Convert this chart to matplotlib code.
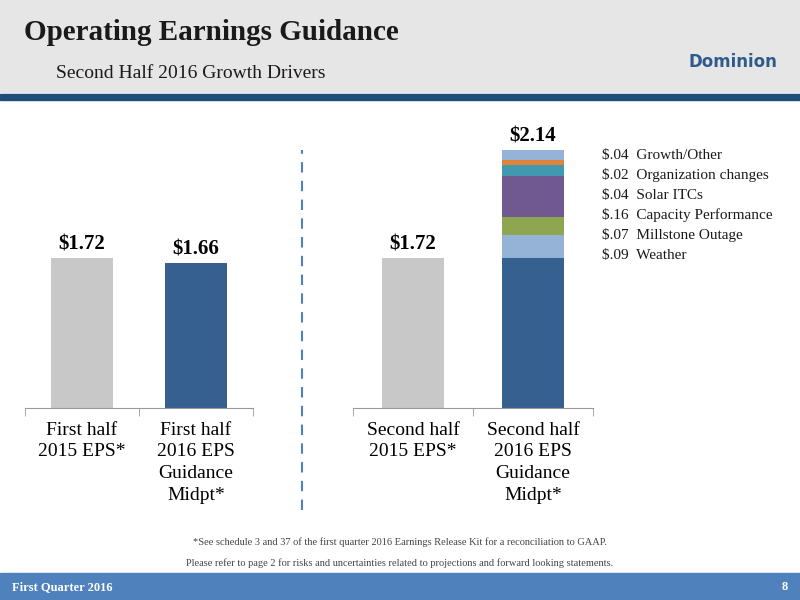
import matplotlib
matplotlib.use('Agg')
import matplotlib.pyplot as plt
from matplotlib.patches import Rectangle

plt.rcParams['font.family'] = ['Liberation Serif', 'DejaVu Serif']

left_labels = ['First half\n2015 EPS*', 'First half\n2016 EPS\nGuidance\nMidpt*']
left_values = [1.72, 1.66]
right_labels = ['Second half\n2015 EPS*', 'Second half\n2016 EPS\nGuidance\nMidpt*']
base_2015 = 1.72
driver_names = ['Weather', 'Millstone Outage', 'Capacity Performance',
                'Solar ITCs', 'Organization changes', 'Growth/Other']
driver_values = [0.09, 0.07, 0.16, 0.04, 0.02, 0.04]
driver_colors = ['#95B3D7', '#8DA64F', '#705990', '#4298AE', '#E0843A', '#95B3D7']
gray = '#C8C8C8'
blue = '#356090'
# the slide draws the driver segments exaggerated, not to scale
seg_scale = 2.95

fig = plt.figure(figsize=(8, 6), dpi=100)

# header / footer
fig.patches.append(Rectangle((0, 1 - 92 / 600), 1, 92 / 600, transform=fig.transFigure,
                             color='#E6E6E6', zorder=0))
fig.patches.append(Rectangle((0, 1 - 100 / 600), 1, 6 / 600, transform=fig.transFigure,
                             color='#1F4E79', zorder=0))
fig.patches.append(Rectangle((0, 0), 1, 27 / 600, transform=fig.transFigure,
                             color='#4F81BD', zorder=0))
fig.text(0.03, 1 - 32 / 600, 'Operating Earnings Guidance', fontsize=21, fontweight='bold',
         color='#1a1a1a', va='center')
fig.text(0.07, 1 - 73 / 600, 'Second Half 2016 Growth Drivers', fontsize=14, color='#1a1a1a',
         va='center')
fig.text(0.86, 1 - 62 / 600, 'Dominion', fontsize=12, fontweight='bold', color='#2E5A8C',
         va='center', ha='left', family='DejaVu Sans')
fig.text(0.015, 0.022, 'First Quarter 2016', fontsize=9, fontweight='bold', color='white',
         va='center')
fig.text(0.985, 0.022, '8', fontsize=9, fontweight='bold', color='white', va='center',
         ha='right')
fig.text(0.5, 0.092, '*See schedule 3 and 37 of the first quarter 2016 Earnings Release Kit '
         'for a reconciliation to GAAP.', fontsize=7.5, color='#444444', ha='center')
fig.text(0.5, 0.057, 'Please refer to page 2 for risks and uncertainties related to '
         'projections and forward looking statements.', fontsize=7.5, color='#444444',
         ha='center')

# dashed divider
fig.add_artist(plt.Line2D([0.3775, 0.3775], [1 - 510 / 600, 1 - 150 / 600],
                          transform=fig.transFigure, color='#4F81BD', ls=(0, (5, 4)), lw=1.5))

h = 0.465
b = 1 - 408 / 600


def style(ax, labels):
    ax.set_xlim(-0.5, 1.5)
    ax.set_ylim(0, 3.2)
    for s in ['top', 'right', 'left']:
        ax.spines[s].set_visible(False)
    ax.spines['bottom'].set_color('#999999')
    ax.set_yticks([])
    ax.set_xticks([0, 1])
    ax.set_xticklabels(labels, fontsize=14, linespacing=1.35, va='top')
    ax.set_xticks([-0.5, 0.5, 1.5], minor=True)
    ax.tick_params(axis='x', which='major', length=0, pad=10)
    ax.tick_params(axis='x', which='minor', length=6, color='#999999')
    ax.patch.set_alpha(0)


ax1 = fig.add_axes([25 / 800, b, 228 / 800, h])
ax1.bar([0, 1], left_values, width=0.54, color=[gray, blue])
for x, v in zip([0, 1], left_values):
    ax1.text(x, v + 0.04, f'${v:.2f}', ha='center', va='bottom', fontsize=15,
             fontweight='bold')
style(ax1, left_labels)

ax2 = fig.add_axes([353 / 800, b, 240 / 800, h])
ax2.bar(0, base_2015, width=0.52, color=gray)
ax2.bar(1, base_2015, width=0.52, color=blue)
bottom = base_2015
total = base_2015
for v, c in zip(driver_values, driver_colors):
    ax2.bar(1, v * seg_scale, bottom=bottom, width=0.52, color=c)
    bottom += v * seg_scale
    total += v
ax2.text(0, base_2015 + 0.04, f'${base_2015:.2f}', ha='center', va='bottom', fontsize=15,
         fontweight='bold')
ax2.text(1, bottom + 0.04, f'${total:.2f}', ha='center', va='bottom', fontsize=15,
         fontweight='bold')
style(ax2, right_labels)

for i, (n, v) in enumerate(reversed(list(zip(driver_names, driver_values)))):
    y = 1 - (155 + i * 20) / 600
    fig.text(602 / 800, y, f'${v:.2f}'.replace('0.', '.') + '  ' + n, fontsize=11,
             va='center', color='#1a1a1a')

fig.savefig('out.png', dpi=100)
